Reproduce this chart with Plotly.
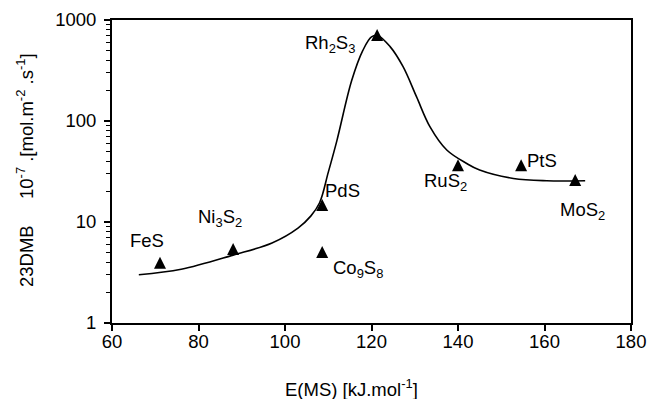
import numpy as np
import plotly.graph_objects as go

# Catalyst data points (triangles)
cat_names = ["FeS", "Ni<sub>3</sub>S<sub>2</sub>", "PdS", "Co<sub>9</sub>S<sub>8</sub>",
             "Rh<sub>2</sub>S<sub>3</sub>", "RuS<sub>2</sub>", "PtS", "MoS<sub>2</sub>"]
e_ms = [71.1, 88.0, 108.6, 108.6, 121.3, 140.0, 154.6, 167.1]
rate = [3.95, 5.4, 14.7, 5.05, 710, 36.5, 36.5, 26.0]

# Label anchor positions (data units)
label_x = [68.1, 85.0, 113.4, 116.9, 110.4, 137.0, 159.4, 168.9]
label_y = [6.6, 11.0, 20.3, 3.45, 585, 25.0, 40.2, 12.8]

# Volcano trend curve
curve_x = [66.2, 76.0, 88.0, 97.0, 103.0, 106.0, 108.0, 110.0, 112.0, 115.4, 118.0,
           120.0, 121.5, 124.3, 127.3, 130.4, 133.5, 137.4, 142.0, 145.0, 152.8, 160.5, 169.4]
curve_y = [3.0, 3.4, 4.7, 6.2, 8.7, 11.5, 15.5, 31.0, 64.0, 250, 500,
           680, 700, 545, 345, 174, 88, 51.6, 38.0, 32.7, 27.0, 25.6, 25.6]

y_tickvals = [1, 10, 100, 1000]
y_ticktext = ["1", "10", "100", "1000"]
x_tickvals = [60, 80, 100, 120, 140, 160, 180]

FONT = "Arial, Liberation Sans, sans-serif"
FS = 18.5

fig = go.Figure()
fig.add_trace(go.Scatter(x=curve_x, y=curve_y, mode="lines",
                         line=dict(color="black", width=1.6, shape="spline", smoothing=1.0),
                         hoverinfo="skip"))
fig.add_trace(go.Scatter(x=e_ms, y=rate, mode="markers",
                         marker=dict(symbol="arrow-down", angle=180, standoff=6, size=12,
                                     color="black", line=dict(width=0))))

for t, lx, ly in zip(cat_names, label_x, label_y):
    fig.add_annotation(x=lx, y=np.log10(ly), xref="x", yref="y", text=t, showarrow=False,
                       font=dict(family=FONT, size=FS, color="black"),
                       xanchor="center", yanchor="middle")

# axis titles
fig.add_annotation(x=(351 - 112) / 519, y=(323 - 388) / 303, xref="paper", yref="paper",
                   text="E(MS) [kJ.mol<sup>-1</sup>]", showarrow=False,
                   font=dict(family=FONT, size=FS, color="black"),
                   xanchor="center", yanchor="middle")
fig.add_annotation(x=(26 - 112) / 519, y=(323 - 256) / 303, xref="paper", yref="paper",
                   text="23DMB", showarrow=False, textangle=-90,
                   font=dict(family=FONT, size=FS, color="black"),
                   xanchor="center", yanchor="middle")
fig.add_annotation(x=(25 - 112) / 519, y=(323 - 126) / 303, xref="paper", yref="paper",
                   text="10<sup>-7</sup> .[mol.m<sup>-2</sup> .s<sup>-1</sup>]", showarrow=False,
                   textangle=-90,
                   font=dict(family=FONT, size=FS, color="black"),
                   xanchor="center", yanchor="middle")

fig.update_layout(
    width=649, height=399,
    margin=dict(l=112, r=18, t=20, b=76, autoexpand=False),
    paper_bgcolor="white", plot_bgcolor="white",
    showlegend=False,
    font=dict(family=FONT, size=FS, color="black"),
)
fig.update_xaxes(range=[60, 180], tickvals=x_tickvals, ticks="outside", ticklen=6, tickwidth=1.5,
                 tickcolor="black", showline=True, linecolor="black", linewidth=2, mirror=True,
                 ticklabelstandoff=-5,
                 showgrid=False, zeroline=False, automargin=False, tickfont=dict(family=FONT, size=FS))
fig.update_yaxes(type="log", range=[0, 3], tickvals=y_tickvals, ticktext=y_ticktext,
                 ticks="outside", ticklen=6, tickwidth=1.5, tickcolor="black",
                 ticklabelstandoff=4, automargin=False,
                 minor=dict(ticks="outside", ticklen=4, tickwidth=1.2, tickcolor="black",
                            dtick="D1", showgrid=False),
                 showline=True, linecolor="black", linewidth=2, mirror=True,
                 showgrid=False, zeroline=False, tickfont=dict(family=FONT, size=FS))

fig.write_html("out.html", config={"displayModeBar": False},
               post_script="document.body.style.margin='0';")
